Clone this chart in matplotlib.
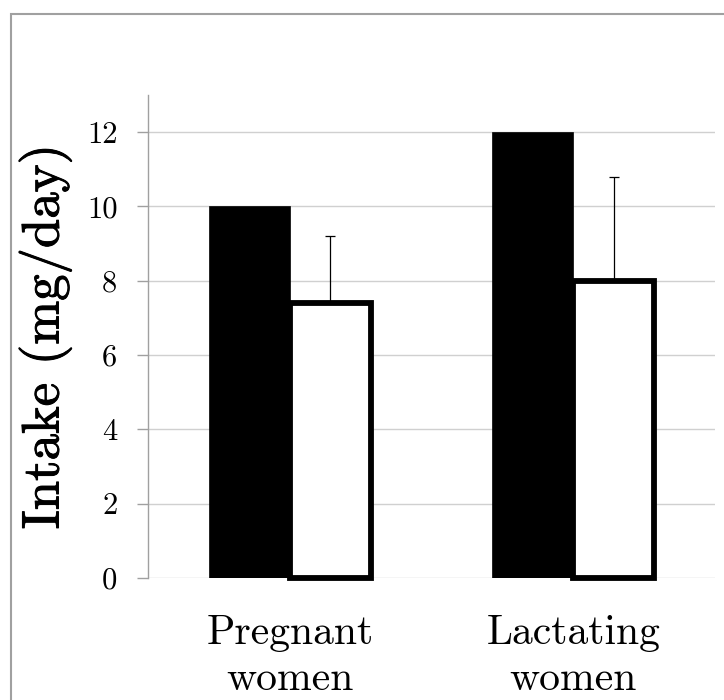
import matplotlib
matplotlib.use("Agg")
import matplotlib.pyplot as plt
import matplotlib.patheffects as pe
import numpy as np
from matplotlib.patches import Rectangle

# ---------------------------------------------------------------------------
# Data
# ---------------------------------------------------------------------------
categories = ["Pregnant\nwomen", "Lactating\nwomen"]
recommended = [10.0, 12.0]      # black bars
intake = [7.4, 8.0]             # white bars
intake_err_up = [1.8, 2.8]      # upper error only
y_ticks = [0, 2, 4, 6, 8, 10, 12]

# ---------------------------------------------------------------------------
# Figure
# ---------------------------------------------------------------------------
fig = plt.figure(figsize=(7.24, 7.0), dpi=100)
fig.patches.append(Rectangle((10.5 / 724, -0.1), 1.2, 0.1 + (1 - 13.5 / 700),
                             transform=fig.transFigure, fill=False,
                             edgecolor="#a0a0a0", linewidth=1.5))

ax = fig.add_axes([148 / 724, 1 - 578 / 700, 567 / 724, 483 / 700])

x = np.arange(len(categories))
w = 0.286
ax.bar(x - w / 2, recommended, width=w, color="black", edgecolor="black",
       linewidth=0.5, zorder=3)
ax.bar(x + w / 2, intake, width=w, color="white", edgecolor="black",
       linewidth=4.2, zorder=3, clip_on=False)
ax.errorbar(x + w / 2, intake, yerr=[[0, 0], intake_err_up], fmt="none",
            ecolor="black", elinewidth=0.9, capsize=3.5, capthick=0.9, zorder=2)

ax.set_xlim(-0.5, 1.5)
ax.set_ylim(0, 13)
ax.set_yticks(y_ticks)
ax.set_yticklabels([str(t) for t in y_ticks], fontfamily="cmr10", fontsize=22)
ax.set_xticks(x)
ax.set_xticklabels(categories, fontfamily="cmr10", fontsize=30, linespacing=1.3)

ax.grid(axis="y", color="#d0d0d0", linewidth=1.0, zorder=0)
ax.set_axisbelow(True)
for side in ["top", "right", "bottom"]:
    ax.spines[side].set_visible(False)
ax.spines["left"].set_color("#a0a0a0")
ax.spines["left"].set_linewidth(1.0)
ax.tick_params(axis="y", direction="out", length=8, width=1.0,
               color="#a0a0a0", pad=14)
ax.tick_params(axis="x", length=0, pad=26)

ylab = ax.set_ylabel("Intake (mg/day)", fontfamily="cmr10", fontsize=38)
ylab.set_path_effects([pe.withStroke(linewidth=0.7, foreground="black")])
ax.yaxis.set_label_coords(-0.134, 0.5)

fig.savefig("out.png", dpi=100, facecolor="white")
